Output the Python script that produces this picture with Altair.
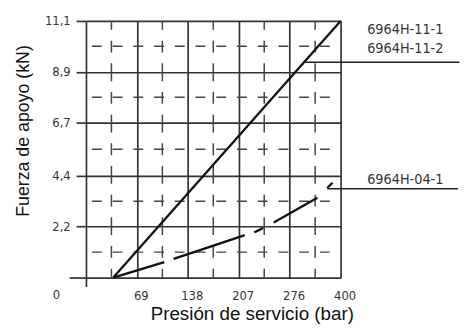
import altair as alt
import pandas as pd

# ---- data ----
x_ticks = [0, 69, 138, 207, 276, 345]
x_tick_labels = ["", "69", "138", "207", "276", "400"]
y_ticks = [0, 2.2, 4.4, 6.7, 8.9, 11.1]
y_tick_labels = ["", "2,2", "4,4", "6,7", "8,9", "11,1"]
x_minor = [34.5, 103.5, 172.5, 241.5, 310.5]
y_minor = [1.1, 3.3, 5.55, 7.8, 10.0]

solid_x = [37, 345]
solid_y = [0, 11.1]
dashed_x = [37, 107, 191, 231, 255, 314, 334]
dashed_y = [0, 0.68, 1.58, 2.0, 2.39, 3.46, 4.1]

series_labels = ["6964H-11-1", "6964H-11-2", "6964H-04-1"]
label_x = [381, 381, 381]
label_y = [10.72, 9.9, 4.23]
leader_x = [295, 327]
leader_x2 = [506, 504]
leader_y = [9.31, 3.84]
origin_label = "0"

FONT_TICK = "DejaVu Sans Condensed"
FONT_TITLE = "Liberation Sans"
GRID = "#333333"


def label_expr(vals, labels):
    expr = "''"
    for v, l in reversed(list(zip(vals, labels))):
        expr = f"datum.value == {v} ? '{l}' : ({expr})"
    return expr


xscale = alt.Scale(domain=[0, 345], nice=False, zero=False)
yscale = alt.Scale(domain=[0, 11.1], nice=False, zero=False)

x_axis = alt.Axis(
    values=x_ticks, labelExpr=label_expr(x_ticks, x_tick_labels),
    grid=True, gridColor=GRID, gridWidth=1.7, gridOpacity=1,
    domain=False, ticks=True, tickSize=9, tickWidth=1.7,
    tickColor={"condition": {"test": "datum.value === 0", "value": GRID}, "value": "transparent"},
    labelFont=FONT_TICK, labelFontSize=13, labelColor="#333333",
    labelPadding=3, labelOffset=4, labelFlush=False, labelOverlap=False,
    title="Presión de servicio (bar)", titleFont=FONT_TITLE, titleFontSize=19,
    titleFontWeight="normal", titleColor="#111111", titleX=168, titleY=43,
    titleAlign="center", titleBaseline="alphabetic",
)
y_axis = alt.Axis(
    values=y_ticks, labelExpr=label_expr(y_ticks, y_tick_labels),
    grid=True, gridColor=GRID, gridWidth=1.7, gridOpacity=1,
    domain=False, ticks=True, tickWidth=1.7, tickColor=GRID,
    tickSize={"condition": {"test": "datum.value === 0", "value": 17}, "value": 10},
    labelFont=FONT_TICK, labelFontSize=13, labelColor="#333333",
    labelPadding=6, labelFlush=False, labelOverlap=False,
    title="Fuerza de apoyo (kN)", titleFont=FONT_TITLE, titleFontSize=18,
    titleFontWeight="normal", titleColor="#111111", titleAngle=270,
    titleX=-54, titleY=111, titleAlign="center", titleBaseline="bottom",
)


def X(field="x"):
    return alt.X(f"{field}:Q", scale=xscale, axis=x_axis)


def Y(field="y"):
    return alt.Y(f"{field}:Q", scale=yscale, axis=y_axis)


vminor = alt.Chart(pd.DataFrame({"x": x_minor})).mark_rule(
    color="#444444", strokeWidth=1.5, strokeDash=[18, 11, 12, 11], strokeDashOffset=9
).encode(x=X())

hminor = alt.Chart(pd.DataFrame({"y": y_minor})).mark_rule(
    color="#444444", strokeWidth=1.5, strokeDash=[10, 11], strokeDashOffset=10
).encode(y=Y())

solid = alt.Chart(pd.DataFrame({"x": solid_x, "y": solid_y})).mark_line(
    color="#111111", strokeWidth=2.3
).encode(x=X(), y=Y())

dashed = alt.Chart(pd.DataFrame({"x": dashed_x, "y": dashed_y})).mark_line(
    color="#111111", strokeWidth=2.4, strokeDash=[54, 10, 76, 10, 10, 12, 51, 14, 8, 30]
).encode(x=X(), y=Y())

leaders = alt.Chart(pd.DataFrame({"x": leader_x, "x2": leader_x2, "y": leader_y})).mark_rule(
    color="#222222", strokeWidth=1.6
).encode(x=X(), x2="x2:Q", y=Y())

labels = alt.Chart(pd.DataFrame({"x": label_x, "y": label_y, "t": series_labels})).mark_text(
    align="left", baseline="middle", font=FONT_TICK, fontSize=14.5, color="#333333"
).encode(x=X(), y=Y(), text="t:N")

origin = alt.Chart(pd.DataFrame({"x": [x_ticks[0]], "y": [y_ticks[0]], "t": [origin_label]})).mark_text(
    align="center", baseline="top", font=FONT_TICK, fontSize=13, color="#333333", dx=-30, dy=12
).encode(x=X(), y=Y(), text="t:N")

chart = alt.layer(vminor, hminor, solid, dashed, leaders, labels, origin).properties(
    width=258, height=260,
    autosize=alt.AutoSizeParams(type="none"),
    padding={"left": 79, "top": 11, "right": 124, "bottom": 48},
    background="white",
).configure_view(stroke=None)

chart.save("out.html", embed_options={"renderer": "svg", "actions": False})
